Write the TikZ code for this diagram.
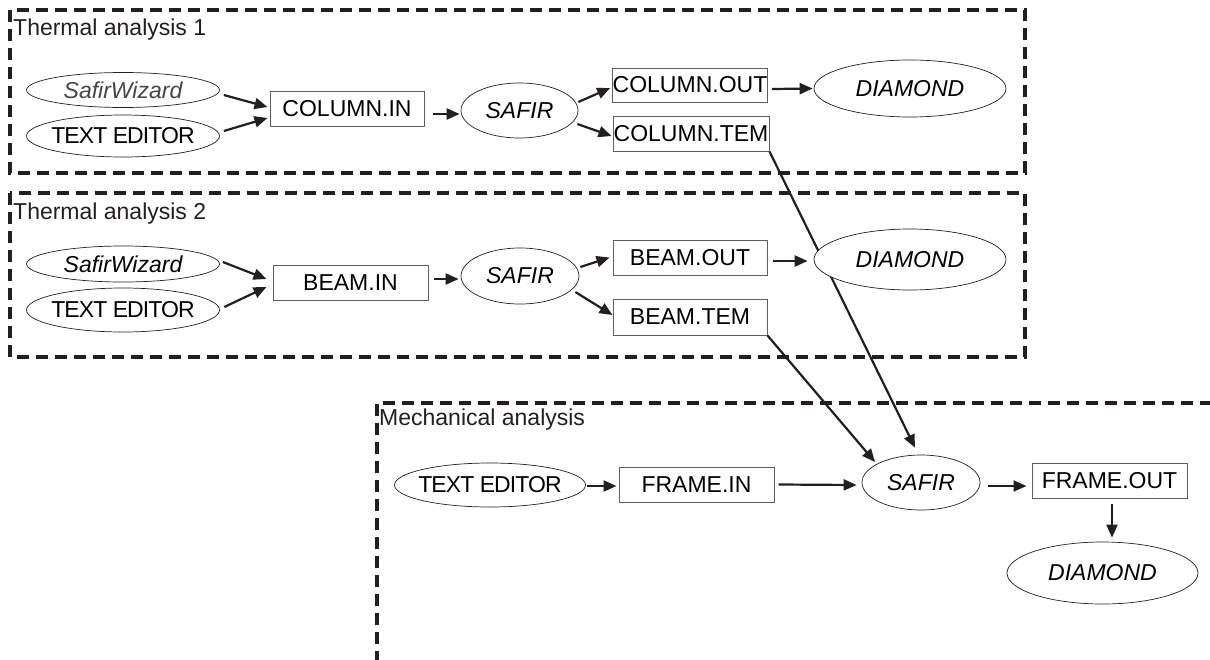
\documentclass[tikz,border=0pt]{standalone}
\usepackage{fontspec}
\setmainfont{Liberation Sans}
\usetikzlibrary{shapes.geometric,arrows.meta}
\definecolor{ink}{RGB}{35,31,32}
\definecolor{boxgray}{RGB}{95,95,95}
\definecolor{wizgray}{RGB}{70,70,70}
\newcommand{\zw}[1]{\makebox[0pt][c]{#1}}
\tikzset{
  ell/.style={ellipse, draw=ink, line width=0.7pt, inner sep=0pt, fill=white, font=\fontsize{23}{27}\selectfont\itshape},
  ellup/.style={ellipse, draw=ink, line width=0.7pt, inner sep=0pt, fill=white, font=\fontsize{23}{27}\selectfont\addfontfeature{LetterSpace=-4}},
  rbox/.style={rectangle, draw=boxgray, line width=1pt, inner sep=0pt, fill=white},
  arr/.style={draw=ink, line width=2.2pt, -{Triangle[length=13pt,width=11pt]}},
  frame/.style={draw=ink, line width=3.2pt, dash pattern=on 12pt off 7pt},
  ftitle/.style={anchor=base west, inner sep=0pt, text=ink}
}
\begin{document}
\begin{tikzpicture}[x=1pt,y=-1pt,font=\fontsize{23}{27}\selectfont]
\useasboundingbox (0,0) rectangle (1210,659);
\begin{scope}
\clip (0,0) rectangle (1210,659);
% frames
\draw[frame] (10,10) rectangle (1025,173);
\draw[frame] (10,193) rectangle (1025,357);
\draw[frame] (377,720) -- (377,403) -- (1260,403);
\end{scope}
\node[ftitle] (t1) at (13,35) {Thermal analysis 1};
\node[ftitle] (t2) at (13,219) {Thermal analysis 2};
\node[ftitle] (t3) at (379,425) {Mechanical analysis};

% Thermal analysis 1
\node[ell, minimum width=193pt, minimum height=35pt, text=wizgray] (sw1) at (123,90) {\zw{SafirWizard}};
\node[ellup, minimum width=193pt, minimum height=42pt] (te1) at (123,136) {\zw{TEXT EDITOR}};
\node[rbox, minimum width=154pt, minimum height=35pt] (colin1) at (347,108.5) {COLUMN.IN};
\node[ell, minimum width=117pt, minimum height=55pt] (safir1) at (519.5,110.5) {\zw{SAFIR}};
\node[rbox, minimum width=154pt, minimum height=34pt] (colout1) at (690,85) {COLUMN.OUT};
\node[rbox, minimum width=156pt, minimum height=35pt] (coltem1) at (691,133.5) {COLUMN.TEM};
\node[ell, minimum width=192pt, minimum height=57pt] (dia1) at (910,88.5) {\zw{DIAMOND}};

% Thermal analysis 2
\node[ell, minimum width=193pt, minimum height=36pt] (sw2) at (123,264) {\zw{SafirWizard}};
\node[ellup, minimum width=193pt, minimum height=44pt] (te2) at (123,310) {\zw{TEXT EDITOR}};
\node[rbox, minimum width=155pt, minimum height=35pt] (beamin) at (350.5,282.5) {BEAM.IN};
\node[ell, minimum width=118pt, minimum height=56pt] (safir2) at (520,276) {\zw{SAFIR}};
\node[rbox, minimum width=154pt, minimum height=35pt] (beamout) at (690,257.5) {BEAM.OUT};
\node[rbox, minimum width=154pt, minimum height=36pt] (beamtem) at (690,317) {BEAM.TEM};

% Mechanical analysis
\node[ellup, minimum width=191pt, minimum height=44pt] (te3) at (490,485) {\zw{TEXT EDITOR}};
\node[rbox, minimum width=155pt, minimum height=35pt] (framein) at (696.5,484.5) {FRAME.IN};
\node[ell, minimum width=118pt, minimum height=55pt] (msafir) at (921,482.5) {\zw{SAFIR}};
\node[rbox, minimum width=155pt, minimum height=35pt] (frameout) at (1109.5,480.5) {FRAME.OUT};
\node[ell, minimum width=191pt, minimum height=62pt] (dia3) at (1102.5,573) {\zw{DIAMOND}};

% long connector passing behind DIAMOND of thermal analysis 2
\draw[arr] (coltem1.south east) -- ([shift={(-6pt,7pt)}]msafir.north);
\node[ell, minimum width=192pt, minimum height=61pt] (dia2) at (910,259.5) {\zw{DIAMOND}};

% arrows thermal 1
\draw[arr] ([shift={(4pt,-5pt)}]sw1.east) -- ([shift={(-2pt,1.5pt)}]colin1.west);
\draw[arr] ([shift={(4pt,5pt)}]te1.east) -- ([shift={(-2pt,-9.5pt)}]colin1.west);
\draw[arr] ([shift={(8pt,-5.5pt)}]colin1.east) -- ([shift={(-1pt,-3.5pt)}]safir1.west);
\draw[arr] ([shift={(0pt,8.5pt)}]safir1.east) -- ([shift={(-2pt,-3pt)}]colout1.west);
\draw[arr] ([shift={(-1pt,-13.5pt)}]safir1.east) -- ([shift={(-1pt,-2.5pt)}]coltem1.west);
\draw[arr] ([shift={(4pt,-4pt)}]colout1.east) -- ([shift={(-1pt,0pt)}]dia1.west);

% arrows thermal 2
\draw[arr] ([shift={(3pt,2pt)}]sw2.east) -- ([shift={(-6pt,3.5pt)}]beamin.west);
\draw[arr] ([shift={(4.5pt,3pt)}]te2.east) -- ([shift={(-6pt,-4.5pt)}]beamin.west);
\draw[arr] ([shift={(5pt,3.5pt)}]beamin.east) -- ([shift={(-2pt,-3pt)}]safir2.west);
\draw[arr] ([shift={(1pt,9pt)}]safir2.east) -- ([shift={(-3pt,0pt)}]beamout.west);
\draw[arr] ([shift={(-4pt,-16pt)}]safir2.east) -- ([shift={(0pt,2pt)}]beamtem.west);
\draw[arr] ([shift={(5pt,-3.5pt)}]beamout.east) -- ([shift={(-6pt,-1.5pt)}]dia2.west);
\draw[arr] (beamtem.south east) -- ([shift={(-46pt,20.5pt)}]msafir.center);

% arrows mechanical
\draw[arr] ([shift={(1pt,-1pt)}]te3.east) -- ([shift={(-2pt,-1.5pt)}]framein.west);
\draw[arr] ([shift={(4pt,0pt)}]framein.east) -- ([shift={(-5pt,-2.5pt)}]msafir.west);
\draw[arr] ([shift={(8pt,-3.5pt)}]msafir.east) -- ([shift={(-5pt,-5.5pt)}]frameout.west);
\draw[arr] ([shift={(2.5pt,-5pt)}]frameout.south) -- ([shift={(9.5pt,4pt)}]dia3.north);
\end{tikzpicture}
\end{document}
